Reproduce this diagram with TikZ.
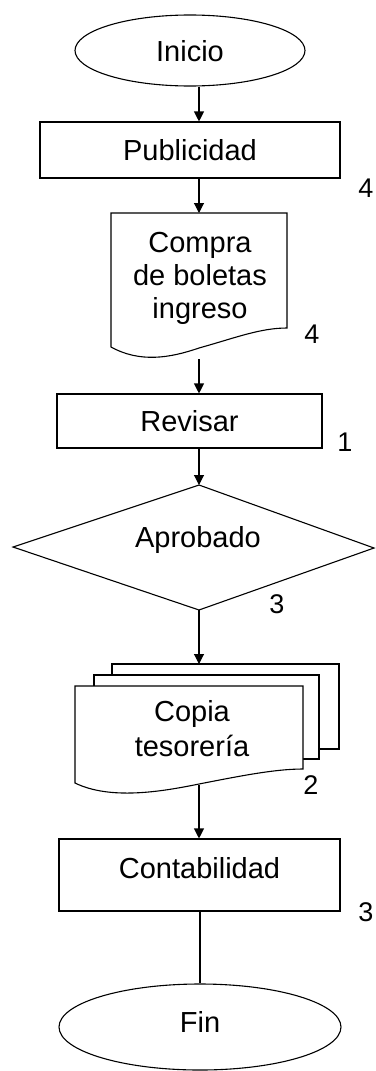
\documentclass[tikz,border=0pt]{standalone}
\usepackage{fontspec}
\setmainfont{Liberation Sans}
\usetikzlibrary{shapes.geometric,arrows.meta}
\begin{document}
\begin{tikzpicture}[x=1pt,y=-1pt,
  every node/.style={font=\fontsize{29}{33}\selectfont, inner sep=0pt},
  box/.style={draw, line width=1.1pt, rectangle, text height=21pt, text depth=0pt},
  term/.style={draw, ellipse, line width=1.1pt, text height=21pt},
  arr/.style={-{Triangle[width=10pt,length=10pt]}, line width=1.1pt},
  lnk/.style={line width=1.1pt},
  shp/.style={draw, line width=1.1pt, fill=white, line join=miter},
  num/.style={font=\fontsize{27}{30}\selectfont, anchor=base}
]
\useasboundingbox (0,0) rectangle (375,1071);
\coordinate (axis) at (199,0);

% Inicio
\node[term, minimum width=230pt, minimum height=71pt, text depth=0pt] (inicio) at (190,50.5) {Inicio};
% Publicidad
\node[box, minimum width=300pt, minimum height=56pt] (pub) at (190,150) {Publicidad};

% Compra document
\draw[shp] (111,213) -- (287,213) -- (287,328)
  .. controls (260,328) and (235,338) .. (199,348)
  .. controls (170,358) and (140,363) .. (111,347) -- cycle;
\coordinate (compra-n) at (199,213);
\coordinate (compra-s) at (199,359);
\node[align=center] (compra) at (200,278.5) {Compra\\de boletas\\ingreso};

% Revisar
\node[box, minimum width=265pt, minimum height=54pt] (rev) at (189.5,421) {Revisar};

% Aprobado diamond
\draw[shp] (199,485) -- (374,548) -- (199,610) -- (13,547) -- cycle;
\coordinate (dtop) at (199,485);
\coordinate (dbot) at (199,610);
\node[anchor=base] (apro) at (198,547) {Aprobado};

% Copia multi-document
\draw[shp] (112,664) rectangle (339,749);
\draw[shp] (94,675) rectangle (319,759);
\draw[shp] (75,686) -- (303,686) -- (303,769)
  .. controls (275,769) and (240,776) .. (199,784)
  .. controls (160,792) and (110,800) .. (75,783) -- cycle;
\coordinate (copia-n) at (199,664);
\coordinate (copia-s) at (199,785);
\node[align=center] (copia) at (192,728.7) {Copia\\[2pt]tesorería};

% Contabilidad
\node[box, minimum width=281pt, minimum height=72pt, text depth=15pt] (cont) at (199.5,875) {Contabilidad};

% Fin
\node[term, minimum width=282pt, minimum height=86pt, text depth=11pt] (fin) at (200,1027) {Fin};

% connectors
\draw[arr] (inicio.south -| axis) -- (pub.north -| axis);
\draw[arr] (pub.south -| axis) -- (compra-n);
\draw[arr] (compra-s) -- (rev.north -| axis);
\draw[arr] (rev.south -| axis) -- (dtop);
\draw[arr] (dbot) -- (copia-n);
\draw[arr] (copia-s) -- (cont.north -| axis);
\draw[lnk] (cont.south -| fin.north) -- (fin.north);

% numbers
\node[num] (n1) at (366,197) {4};
\node[num] (n2) at (312,343) {4};
\node[num] (n3) at (345,451) {1};
\node[num] (n4) at (277,613) {3};
\node[num] (n5) at (311,794) {2};
\node[num] (n6) at (366,921) {3};
\end{tikzpicture}
\end{document}
